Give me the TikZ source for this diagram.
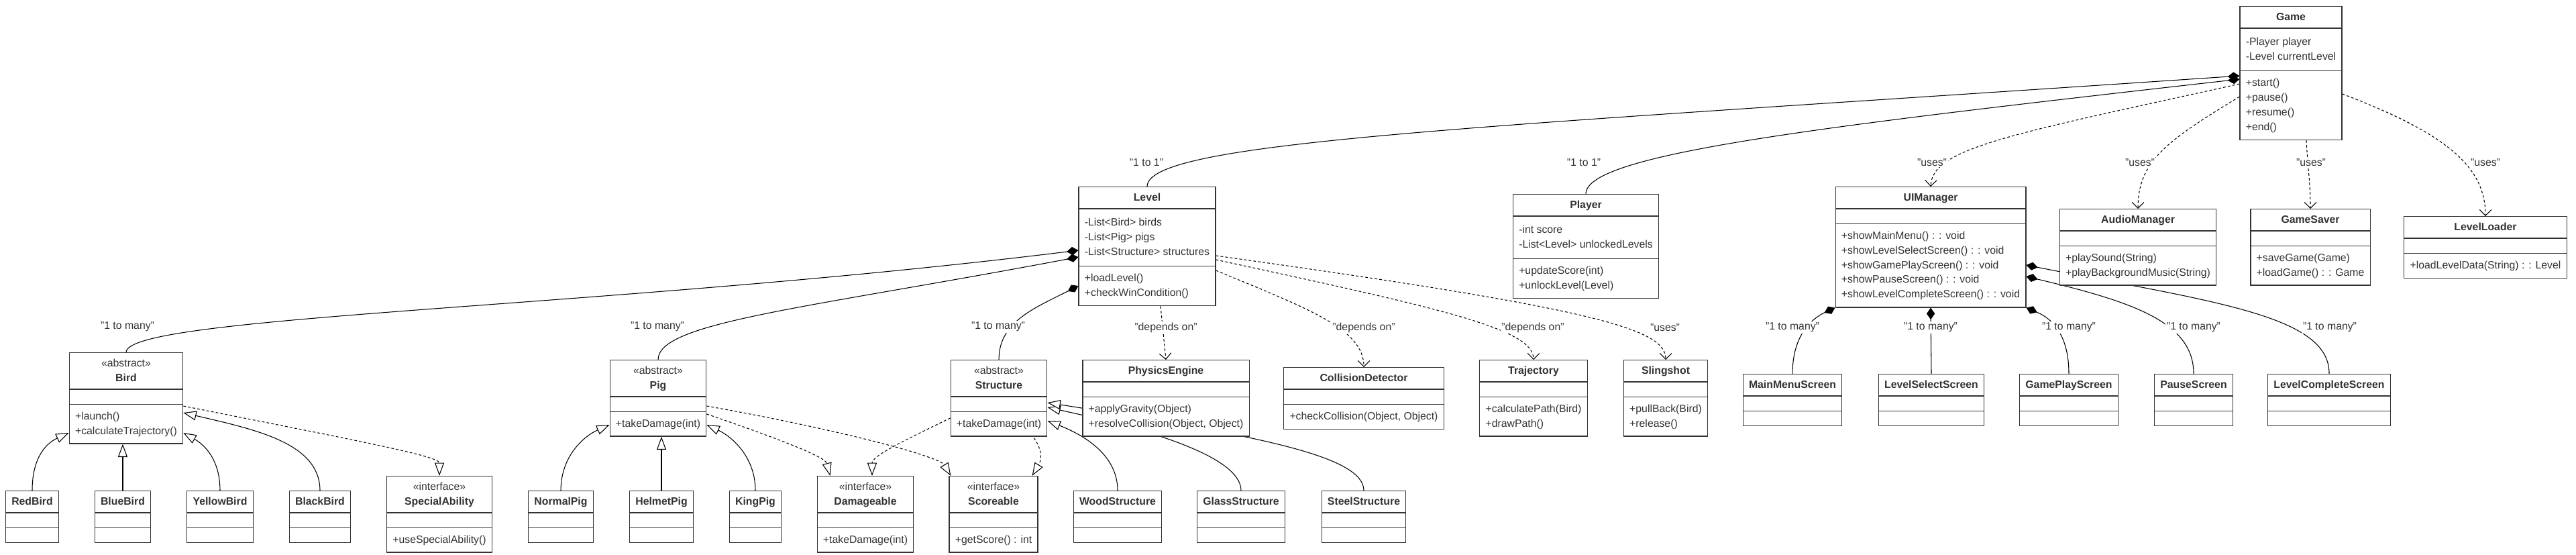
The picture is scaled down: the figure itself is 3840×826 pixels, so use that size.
\documentclass[tikz,border=0pt]{standalone}
\usepackage{fontspec}
\setmainfont{Liberation Sans}
\usetikzlibrary{shapes.multipart,arrows.meta,calc,backgrounds}
\definecolor{boxline}{HTML}{333333}
\definecolor{txt}{HTML}{333333}
% class name, stereotype + name, attribute and operation compartments
\newcommand{\cname}[1]{\begin{tabular}{@{}c@{}}\textbf{#1}\end{tabular}}
\newcommand{\stereo}[2]{\begin{tabular}{@{}c@{}}«#1»\\\textbf{#2}\end{tabular}}
\newcommand{\attrs}[1]{\raisebox{0pt}[\dimexpr\height+2.7pt\relax][\dimexpr\depth+2.7pt\relax]{\begin{tabular}{@{}l@{}}#1\end{tabular}}}
\newcommand{\ops}[1]{\raisebox{0pt}[\dimexpr\height+1.3pt\relax][\dimexpr\depth+1.3pt\relax]{\begin{tabular}{@{}l@{}}#1\end{tabular}}}

\begin{document}
\begin{tikzpicture}[
  x=0.02cm, y=-0.02cm,
  umlclass/.style={rectangle split, rectangle split parts=3, draw=boxline, fill=white,
    line width=0.7pt, text=txt, font=\fontsize{9}{12.5}\selectfont,
    inner xsep=5pt, inner ysep=2.6pt,
    rectangle split part align={center,left,left},
    rectangle split empty part height=3.5pt, rectangle split empty part depth=1.5pt,
    anchor=north},
  comp/.style={line width=0.6pt, {Diamond[length=10pt,width=7pt]}-},
  inherit/.style={line width=0.6pt, -{Triangle[length=11pt,width=8pt,fill=white]}},
  realize/.style={line width=0.6pt, dash pattern=on 2.2pt off 1.8pt, -{Triangle[length=11pt,width=8pt,fill=white]}},
  dep/.style={line width=0.6pt, dash pattern=on 2.2pt off 1.8pt, -{Straight Barb[length=5pt,width=10pt]}},
  lbl/.style={font=\fontsize{9}{11}\selectfont, text=txt, fill=white, inner sep=1pt}
]
\useasboundingbox (0,0) rectangle (3840,826);

% Game and its parts
\node[umlclass] (game) at (3415,9) {\cname{Game}
  \nodepart{second} \attrs{-Player player\\-Level currentLevel}
  \nodepart{third} \ops{+start()\\+pause()\\+resume()\\+end()}};
\node[umlclass] (level) at (1710,278) {\cname{Level}
  \nodepart{second} \attrs{-List<Bird> birds\\-List<Pig> pigs\\-List<Structure> structures}
  \nodepart{third} \ops{+loadLevel()\\+checkWinCondition()}};
\node[umlclass] (player) at (2364,289) {\cname{Player}
  \nodepart{second} \attrs{-int score\\-List<Level> unlockedLevels}
  \nodepart{third} \ops{+updateScore(int)\\+unlockLevel(Level)}};
\node[umlclass] (uimgr) at (2878,278) {\cname{UIManager}
  \nodepart{second}
  \nodepart{third} \ops{+showMainMenu() : : void\\+showLevelSelectScreen() : : void\\+showGamePlayScreen() : : void\\+showPauseScreen() : : void\\+showLevelCompleteScreen() : : void}};
\node[umlclass] (audio) at (3187,311) {\cname{AudioManager}
  \nodepart{second}
  \nodepart{third} \ops{+playSound(String)\\+playBackgroundMusic(String)}};
\node[umlclass] (saver) at (3444,311) {\cname{GameSaver}
  \nodepart{second}
  \nodepart{third} \ops{+saveGame(Game)\\+loadGame() : : Game}};
\node[umlclass] (loader) at (3705,322) {\cname{LevelLoader}
  \nodepart{second}
  \nodepart{third} \ops{+loadLevelData(String) : : Level}};

% Level helpers
\node[umlclass] (physics) at (1738,536) {\cname{PhysicsEngine}
  \nodepart{second}
  \nodepart{third} \ops{+applyGravity(Object)\\+resolveCollision(Object, Object)}};
\node[umlclass] (collision) at (2033,547) {\cname{CollisionDetector}
  \nodepart{second}
  \nodepart{third} \ops{+checkCollision(Object, Object)}};
\node[umlclass] (trajectory) at (2286,536) {\cname{Trajectory}
  \nodepart{second}
  \nodepart{third} \ops{+calculatePath(Bird)\\+drawPath()}};
\node[umlclass] (slingshot) at (2483,536) {\cname{Slingshot}
  \nodepart{second}
  \nodepart{third} \ops{+pullBack(Bird)\\+release()}};

% Birds
\node[umlclass] (bird) at (188,525) {\stereo{abstract}{Bird}
  \nodepart{second}
  \nodepart{third} \ops{+launch()\\+calculateTrajectory()}};
\node[umlclass] (redbird) at (48,731) {\cname{RedBird} \nodepart{second} \nodepart{third}};
\node[umlclass] (bluebird) at (183,731) {\cname{BlueBird} \nodepart{second} \nodepart{third}};
\node[umlclass] (yellowbird) at (328,731) {\cname{YellowBird} \nodepart{second} \nodepart{third}};
\node[umlclass] (blackbird) at (477,731) {\cname{BlackBird} \nodepart{second} \nodepart{third}};
\node[umlclass] (special) at (655,709) {\stereo{interface}{SpecialAbility}
  \nodepart{second}
  \nodepart{third} \ops{+useSpecialAbility()}};

% Pigs
\node[umlclass] (pig) at (981,536) {\stereo{abstract}{Pig}
  \nodepart{second}
  \nodepart{third} \ops{+takeDamage(int)}};
\node[umlclass] (normalpig) at (836,731) {\cname{NormalPig} \nodepart{second} \nodepart{third}};
\node[umlclass] (helmetpig) at (986,731) {\cname{HelmetPig} \nodepart{second} \nodepart{third}};
\node[umlclass] (kingpig) at (1126,731) {\cname{KingPig} \nodepart{second} \nodepart{third}};
\node[umlclass] (damageable) at (1290,709) {\stereo{interface}{Damageable}
  \nodepart{second}
  \nodepart{third} \ops{+takeDamage(int)}};
\node[umlclass] (scoreable) at (1481,709) {\stereo{interface}{Scoreable}
  \nodepart{second}
  \nodepart{third} \ops{+getScore() : int}};

% Structures
\node[umlclass] (structure) at (1489,536) {\stereo{abstract}{Structure}
  \nodepart{second}
  \nodepart{third} \ops{+takeDamage(int)}};
\node[umlclass] (wood) at (1666,731) {\cname{WoodStructure} \nodepart{second} \nodepart{third}};
\node[umlclass] (glass) at (1850,731) {\cname{GlassStructure} \nodepart{second} \nodepart{third}};
\node[umlclass] (steel) at (2033,731) {\cname{SteelStructure} \nodepart{second} \nodepart{third}};

% Screens
\node[umlclass] (mainmenu) at (2672,557) {\cname{MainMenuScreen} \nodepart{second} \nodepart{third}};
\node[umlclass] (levelselect) at (2879,557) {\cname{LevelSelectScreen} \nodepart{second} \nodepart{third}};
\node[umlclass] (gameplay) at (3084,557) {\cname{GamePlayScreen} \nodepart{second} \nodepart{third}};
\node[umlclass] (pause) at (3270,557) {\cname{PauseScreen} \nodepart{second} \nodepart{third}};
\node[umlclass] (levelcomplete) at (3472,557) {\cname{LevelCompleteScreen} \nodepart{second} \nodepart{third}};

% Connectors (behind the boxes)
\begin{scope}[on background layer]
\draw[comp] ($(game.north west)+(0,104)$) .. controls (2200,190) and (1710,210) .. (level.north);
\draw[comp] ($(game.north west)+(0,109)$) .. controls (2700,190) and (2364,230) .. (player.north);
\draw[dep] ($(game.north west)+(0,116)$) .. controls (3000,200) and (2880,220) .. (uimgr.north);
\draw[dep] ($(game.north west)+(0,135)$) .. controls (3230,210) and (3187,240) .. (audio.north);
\draw[dep] ($(game.south)+(23,0)$) .. controls (3440,250) and (3444,270) .. (saver.north);
\draw[dep] ($(game.north east)+(0,131)$) .. controls (3650,200) and (3705,250) .. (loader.north);

\draw[comp] ($(level.north west)+(0,95)$) .. controls (900,460) and (188,470) .. (bird.north);
\draw[comp] ($(level.north west)+(0,105)$) .. controls (1200,460) and (981,480) .. (pig.north);
\draw[comp] ($(level.north west)+(0,148)$) .. controls (1540,460) and (1489,480) .. (structure.north);
\draw[dep] ($(level.south)+(20,0)$) -- (physics.north);
\draw[dep] ($(level.north east)+(0,125)$) .. controls (1950,460) and (2033,490) .. (collision.north);
\draw[dep] ($(level.north east)+(0,109)$) .. controls (2150,460) and (2286,490) .. (trajectory.north);
\draw[dep] ($(level.north east)+(0,103)$) .. controls (2380,460) and (2483,490) .. (slingshot.north);

\draw[comp] (uimgr.south west) .. controls (2700,475) and (2672,500) .. (mainmenu.north);
\draw[comp] (uimgr.south) -- (levelselect.north);
\draw[comp] (uimgr.south east) .. controls (3060,475) and (3084,500) .. (gameplay.north);
\draw[comp] ($(uimgr.north east)+(0,134)$) .. controls (3180,450) and (3270,480) .. (pause.north);
\draw[comp] ($(uimgr.north east)+(0,117)$) .. controls (3300,450) and (3473,470) .. (levelcomplete.north);

\draw[inherit] (redbird.north) .. controls (48,680) and (70,660) .. ($(bird.north west)+(0,120)$);
\draw[inherit] (bluebird.north) -- (bluebird.north |- bird.south);
\draw[inherit] (yellowbird.north) .. controls (328,680) and (300,660) .. ($(bird.north east)+(0,120)$);
\draw[inherit] (blackbird.north) .. controls (477,660) and (380,640) .. ($(bird.north east)+(0,90)$);
\draw[realize] ($(bird.north east)+(0,80)$) .. controls (550,660) and (655,680) .. (special.north);

\draw[inherit] (normalpig.north) .. controls (836,680) and (870,650) .. ($(pig.north west)+(0,97)$);
\draw[inherit] (helmetpig.north) -- (helmetpig.north |- pig.south);
\draw[inherit] (kingpig.north) .. controls (1126,680) and (1090,650) .. ($(pig.north east)+(0,97)$);
\draw[realize] ($(pig.north east)+(0,81)$) .. controls (1150,650) and (1230,680) .. ($(damageable.north west)+(20,0)$);
\draw[realize] ($(pig.north east)+(0,69)$) .. controls (1250,640) and (1400,680) .. ($(scoreable.north west)+(3,0)$);
\draw[realize] ($(structure.north west)+(0,87)$) .. controls (1340,660) and (1300,680) .. ($(damageable.north)+(10,0)$);
\draw[realize] ($(structure.north)+(43,106)$) .. controls (1560,670) and (1550,690) .. ($(scoreable.north east)+(-9,0)$);

\draw[inherit] (wood.north) .. controls (1666,680) and (1620,650) .. ($(structure.north east)+(0,91)$);
\draw[inherit] (glass.north) .. controls (1850,690) and (1760,650) .. ($(structure.north east)+(0,71)$);
\draw[inherit] (steel.north) .. controls (2033,680) and (1880,650) .. ($(structure.north east)+(0,64)$);
\end{scope}

% Labels
\node[lbl] (l-level) at (1709,242) {"1 to 1"};
\node[lbl] (l-player) at (2361,242) {"1 to 1"};
\node[lbl] (l-uimgr) at (2880,242) {"uses"};
\node[lbl] (l-audio) at (3190,242) {"uses"};
\node[lbl] (l-saver) at (3445,242) {"uses"};
\node[lbl] (l-loader) at (3705,242) {"uses"};
\node[lbl] (l-bird) at (190,487) {"1 to many"};
\node[lbl] (l-pig) at (980,487) {"1 to many"};
\node[lbl] (l-structure) at (1488,487) {"1 to many"};
\node[lbl] (l-physics) at (1738,488) {"depends on"};
\node[lbl] (l-collision) at (2033,488) {"depends on"};
\node[lbl] (l-trajectory) at (2285,488) {"depends on"};
\node[lbl] (l-slingshot) at (2482,488) {"uses"};
\node[lbl] (l-mainmenu) at (2672,488) {"1 to many"};
\node[lbl] (l-levelselect) at (2878,488) {"1 to many"};
\node[lbl] (l-gameplay) at (3084,488) {"1 to many"};
\node[lbl] (l-pause) at (3270,488) {"1 to many"};
\node[lbl] (l-levelcomplete) at (3473,488) {"1 to many"};
\end{tikzpicture}
\end{document}
